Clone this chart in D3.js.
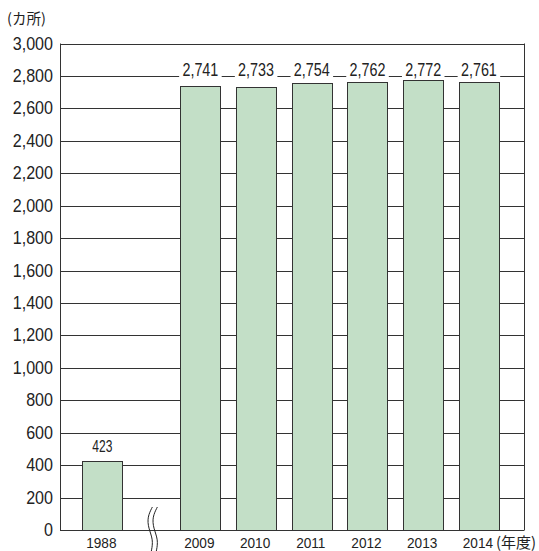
<!DOCTYPE html>
<html>
<head>
<meta charset="utf-8">
<script src="https://cdn.jsdelivr.net/npm/d3@7/dist/d3.min.js"></script>
<style>
  html, body { margin: 0; padding: 0; background: #fff; }
  svg text { font-family: "Liberation Sans", Arial, "Noto Sans CJK JP", sans-serif; fill: #222; }
</style>
</head>
<body>
<svg id="chart" width="539" height="551"></svg>
<script>
// Number of locations per fiscal year
const years = ["1988", "2009", "2010", "2011", "2012", "2013", "2014"];
const counts = [423, 2741, 2733, 2754, 2762, 2772, 2761];
const yTicks = [0, 200, 400, 600, 800, 1000, 1200, 1400, 1600, 1800, 2000, 2200, 2400, 2600, 2800, 3000];
const unitLabel = "(カ所)";
const yearSuffix = "(年度)";

const svg = d3.select("#chart");
const plot = { left: 60, right: 524, top: 43.5, bottom: 530 };

// Slot positions: the first year stands apart, followed by an axis break
const gapSlots = 1.76;
const slotOf = (i) => (i === 0 ? 0 : i - 1 + gapSlots);
const x = d3.scaleLinear().domain([-0.76, 7.57]).range([plot.left, plot.right]);
const barW = 40;
const y = d3.scaleLinear().domain([0, 3000]).range([plot.bottom, plot.top]);
const fmt = d3.format(",");

// Condensed text helper: horizontally squeezed glyphs
function squeezed(sel, sx) {
  return sel.attr("transform", function () {
    const tx = +this.getAttribute("data-x"), ty = +this.getAttribute("data-y");
    return `translate(${tx},${ty}) scale(${sx},1)`;
  });
}

// Horizontal grid lines
svg.append("g").selectAll("line").data(yTicks).join("line")
  .attr("x1", plot.left).attr("x2", plot.right)
  .attr("y1", d => Math.round(y(d)) + 0.5).attr("y2", d => Math.round(y(d)) + 0.5)
  .attr("stroke", "#333").attr("stroke-width", 1);

// Frame sides
svg.append("line").attr("x1", plot.left + 0.5).attr("x2", plot.left + 0.5)
  .attr("y1", y(3000)).attr("y2", y(0) + 0.5).attr("stroke", "#333");
svg.append("line").attr("x1", plot.right + 0.5).attr("x2", plot.right + 0.5)
  .attr("y1", y(3000)).attr("y2", y(0) + 0.5).attr("stroke", "#333");

// Y tick labels
svg.append("g").selectAll("text").data(yTicks).join("text")
  .attr("data-x", 53).attr("data-y", d => y(d) + 6)
  .attr("text-anchor", "end").attr("font-size", 17.5)
  .text(d => fmt(d))
  .call(squeezed, 0.92);

// Bars
const bars = years.map((yr, i) => ({ yr, v: counts[i], cx: x(slotOf(i)) }));
svg.append("g").selectAll("rect").data(bars).join("rect")
  .attr("x", d => Math.round(d.cx - barW / 2) + 0.5)
  .attr("y", d => Math.round(y(d.v)) + 0.5)
  .attr("width", barW)
  .attr("height", d => Math.round(y(0)) - Math.round(y(d.v)))
  .attr("fill", "#c3dfc7").attr("stroke", "#333").attr("stroke-width", 1);

// Value labels: tall bars are labelled on the top grid band, with a white
// backing that interrupts the grid line; the short bar is labelled above itself
const lbl = svg.append("g").selectAll("g").data(bars).join("g")
  .attr("transform", d => `translate(${d.cx},${d.v > 1000 ? 76 : y(d.v) - 9}) scale(${d.v > 1000 ? 0.82 : 0.75},1)`);
lbl.append("text")
  .attr("text-anchor", "middle").attr("font-size", d => (d.v > 1000 ? 17.5 : 16))
  .text(d => fmt(d.v));
lbl.each(function (d) {
  if (d.v <= 1000) return;
  const g = d3.select(this);
  const b = g.select("text").node().getBBox();
  g.insert("rect", "text")
    .attr("x", b.x - 4).attr("y", b.y).attr("width", b.width + 8).attr("height", b.height)
    .attr("fill", "#fff");
});

// Year labels
svg.append("g").selectAll("text").data(bars).join("text")
  .attr("data-x", d => d.cx - 1).attr("data-y", 548)
  .attr("text-anchor", "middle").attr("font-size", 15.5)
  .text(d => d.yr)
  .call(squeezed, 0.88);
svg.append("text").attr("x", 496).attr("y", 548).attr("font-size", 15)
  .style("font-family", "'Noto Sans CJK JP', sans-serif")
  .text(yearSuffix);

// Unit label
svg.append("text").attr("x", 7).attr("y", 24).attr("font-size", 14.5)
  .style("font-family", "'Noto Sans CJK JP', sans-serif")
  .text(unitLabel);

// Axis break mark between the first year and the rest
const bx = (x(slotOf(0)) + x(slotOf(1))) / 2 - 1;
const wave = d3.line().curve(d3.curveBasis);
[0, 5].forEach(off => {
  const pts = [[bx + 2 + off, 507], [bx - 3 + off, 517], [bx - 2 + off, 528], [bx + 3 + off, 540], [bx + 1 + off, 551]];
  svg.append("path").attr("d", wave(pts))
    .attr("fill", "none").attr("stroke", "#222").attr("stroke-width", 1);
});
</script>
</body>
</html>
